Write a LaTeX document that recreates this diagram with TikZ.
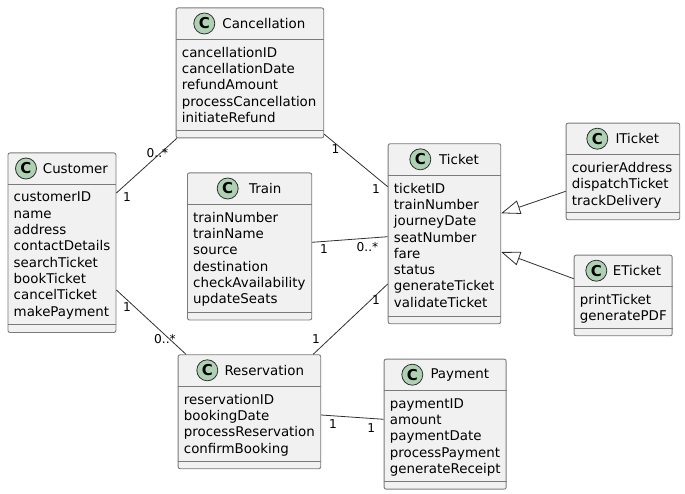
\documentclass[tikz,border=0pt]{standalone}
\usepackage{fontspec}
\setmainfont{DejaVu Sans}
\usetikzlibrary{arrows.meta}
\definecolor{boxfill}{HTML}{F1F1F1}
\definecolor{boxline}{HTML}{7A7A7A}
\definecolor{iconfill}{HTML}{ADD1B2}
\definecolor{linkline}{HTML}{303030}
\tikzset{
  classbox/.style={draw=boxline,fill=boxfill,line width=0.9pt,rounded corners=2pt,anchor=north west,inner sep=0pt},
  divider/.style={draw=boxline,line width=0.9pt},
  classicon/.style={circle,draw=linkline,fill=iconfill,line width=0.8pt,minimum size=21pt,inner sep=0pt,font=\fontsize{15}{15}\selectfont\bfseries},
  classtitle/.style={anchor=west,inner sep=0pt,font=\fontsize{13.4}{16}\selectfont},
  memberlist/.style={anchor=north west,inner sep=0pt,align=left,font=\fontsize{13.4}{16.3}\selectfont},
  link/.style={draw=linkline,line width=0.8pt},
  inherit/.style={link,-{Triangle[open,length=19pt,width=14pt,fill=white]}},
  mult/.style={inner sep=0pt,font=\fontsize{12.2}{14}\selectfont,text=black},
}
% #1 id, #2 x, #3 y, #4 width, #5 height, #6 icon offset, #7 title offset, #8 title, #9 members
\newcommand{\umlclass}[9]{%
  \node[classbox,minimum width=#4pt,minimum height=#5pt] (#1) at (#2,#3) {};
  \draw[divider] ([yshift=-32pt]#1.north west) -- ([yshift=-32pt]#1.north east);
  \draw[divider] ([yshift=8pt]#1.south west) -- ([yshift=8pt]#1.south east);
  \node[classicon] (#1-icon) at ([xshift=#6pt,yshift=-16pt]#1.north west) {C};
  \node[classtitle] (#1-title) at ([xshift=#7pt,yshift=-16pt]#1.north west) {#8};
  \node[memberlist] (#1-members) at ([xshift=6pt,yshift=-39.5pt]#1.north west) {#9};
}
\begin{document}
\begin{tikzpicture}[x=1pt,y=-1pt]
\useasboundingbox (0,0) rectangle (685,494);
\umlclass{cancellation}{175.7}{7.5}{147.6}{130}{28.6}{46.5}{Cancellation}{cancellationID\\cancellationDate\\refundAmount\\processCancellation\\initiateRefund}
\umlclass{customer}{7.5}{152.5}{108}{179.5}{18.5}{35.2}{Customer}{customerID\\name\\address\\contactDetails\\searchTicket\\bookTicket\\cancelTicket\\makePayment}
\umlclass{train}{187}{172.5}{124.3}{147}{40.7}{62}{Train}{trainNumber\\trainName\\source\\destination\\checkAvailability\\updateSeats}
\umlclass{ticket}{387.7}{143.3}{112.6}{180}{32.6}{51.3}{Ticket}{ticketID\\trainNumber\\journeyDate\\seatNumber\\fare\\status\\generateTicket\\validateTicket}
\umlclass{iticket}{565.7}{122.7}{113.6}{96.6}{31.6}{49.6}{ITicket}{courierAddress\\dispatchTicket\\trackDelivery}
\umlclass{eticket}{573.7}{254.7}{98}{80.6}{22.6}{39}{ETicket}{printTicket\\generatePDF}
\umlclass{reservation}{177.7}{354.3}{142.6}{114}{29.6}{46.6}{Reservation}{reservationID\\bookingDate\\processReservation\\confirmBooking}
\umlclass{payment}{383.7}{358.7}{122}{130}{28.6}{46.6}{Payment}{paymentID\\amount\\paymentDate\\processPayment\\generateReceipt}

\draw[link] ([yshift=-40.5pt]customer.north east) -- ([xshift=1pt]cancellation.south west);
\draw[link] ([yshift=4.2pt]cancellation.south east) -- ([yshift=-43.4pt]ticket.north west);
\draw[link] ([yshift=-69.8pt]train.north east) -- ([yshift=-93.4pt]ticket.north west);
\draw[link] ([xshift=-8pt]reservation.north east) -- ([yshift=-140.7pt]ticket.north west);
\draw[link] ([yshift=-137.5pt]customer.north east) -- ([xshift=8.3pt]reservation.north west);
\draw[link] ([yshift=-60.7pt]reservation.north east) -- ([yshift=-60.6pt]payment.north west);
\draw[inherit] ([yshift=-68.6pt]iticket.north west) -- ([yshift=-70pt]ticket.north east);
\draw[inherit] ([yshift=-24pt]eticket.north west) -- ([yshift=-108.7pt]ticket.north east);

\node[mult] (m1) at (157.5,153) {0..*};
\node[mult] (m2) at (127,197) {1};
\node[mult] (m3) at (335.5,149) {1};
\node[mult] (m4) at (376,189.3) {1};
\node[mult] (m5) at (324,249) {1};
\node[mult] (m6) at (367.5,247) {0..*};
\node[mult] (m7) at (376,300) {1};
\node[mult] (m8) at (316,339.5) {1};
\node[mult] (m9) at (127,306.7) {1};
\node[mult] (m10) at (165,339) {0..*};
\node[mult] (m11) at (333,424.3) {1};
\node[mult] (m12) at (371.3,428.3) {1};
\end{tikzpicture}
\end{document}
